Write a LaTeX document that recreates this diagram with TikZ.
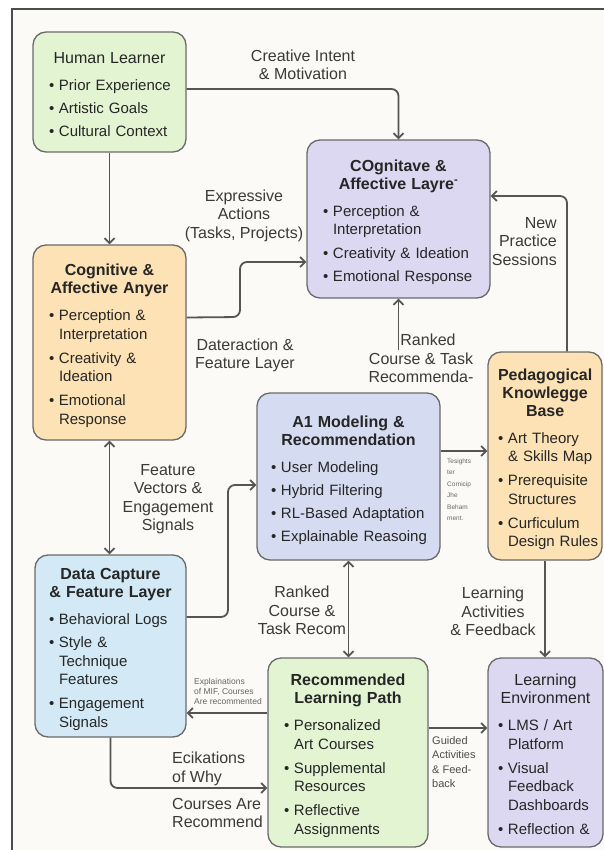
\documentclass[tikz,border=0pt]{standalone}
\usepackage{fontspec}
\setmainfont{Liberation Sans}
\usepackage{xcolor}
\usepackage{tikz}
\usetikzlibrary{arrows.meta}
\setlength{\parindent}{0pt}
\definecolor{paper}{HTML}{FBFAF6}
\definecolor{greenfill}{HTML}{E3F4D3}
\definecolor{orangefill}{HTML}{FCE2B4}
\definecolor{bluefill}{HTML}{D3EAF6}
\definecolor{purplefill}{HTML}{DCD8F1}
\definecolor{modelfill}{HTML}{D5DCF1}
\definecolor{boxline}{HTML}{6A6A6A}
\definecolor{arrowline}{HTML}{555555}
\definecolor{txt}{HTML}{262626}
\definecolor{lbltxt}{HTML}{3A3A3A}
\newcommand{\btitle}[2][\bfseries]{{\centering\fontsize{16}{18}\selectfont#1\begin{tabular}[b]{@{}c@{}}\rule{0pt}{21pt}#2\end{tabular}\par}\vspace{4pt}}
\newcommand{\bitem}[1]{\vspace{4.5pt}{\makebox[10pt][l]{\textbullet}\begin{tabular}[t]{@{}l@{}}#1\end{tabular}\par}}
\tikzstyle{block} = [draw=boxline, line width=1.3pt, rounded corners=13pt, inner xsep=16pt, inner ysep=0pt, text=txt, font=\fontsize{15}{18.5}\selectfont]
\tikzstyle{arrow} = [draw=arrowline, line width=1.8pt, rounded corners=7pt, -{Straight Barb[length=5pt,width=10pt]}]
\tikzstyle{twoway} = [arrow, {Straight Barb[length=5pt,width=10pt]}-{Straight Barb[length=5pt,width=10pt]}]
\tikzstyle{lbl} = [text=lbltxt, font=\fontsize{16}{18.5}\selectfont, align=center, inner sep=0pt]

\begin{document}
\begin{tikzpicture}[x=1pt,y=-1pt]
\useasboundingbox (0,0) rectangle (604,850);
\fill[white] (0,0) rectangle (604,850);
\fill[paper] (12,9) rectangle (604,850);
\draw[line width=1.5pt, draw=black!70] (604,9) -- (12,9) -- (12,850);

\node[block, fill=greenfill, text width=121pt, minimum height=120pt] (learner) at (109.5,92)
  {\btitle[\mdseries]{Human Learner}\bitem{Prior Experience}\bitem{Artistic Goals}\bitem{Cultural Context}};
\node[block, fill=orangefill, text width=121pt, minimum height=195pt] (affect) at (109.5,342.5)
  {\btitle{Cognitive \&\\Affective Anyer}\bitem{Perception \&\\Interpretation}\bitem{Creativity \&\\Ideation}\bitem{Emotional\\Response}};
\node[block, fill=bluefill, inner xsep=14pt, text width=123pt, minimum height=182pt] (capture) at (110.5,646)
  {\btitle{Data Capture\\\& Feature Layer}\bitem{Behavioral Logs}\bitem{Style \&\\Technique\\Features}\bitem{Engagement\\Signals}};
\node[block, fill=purplefill, text width=151pt, minimum height=158pt] (cogtop) at (398.5,219)
  {\btitle{COgnitave \&\\Affective Layre\textsuperscript{-}}\bitem{Perception \&\\Interpretation}\bitem{Creativity \& Ideation}\bitem{Emotional Response}};
\node[block, fill=modelfill, inner xsep=14pt, text width=155pt, minimum height=167pt] (model) at (348.5,476.5)
  {\btitle{A1 Modeling \&\\Recommendation}\bitem{User Modeling}\bitem{Hybrid Filtering}\bitem{RL-Based Adaptation}\bitem{Explainable Reasoing}};
\node[block, fill=orangefill, inner xsep=10pt, text width=94pt, minimum height=208pt] (pedag) at (545,456)
  {\btitle{Pedagogical\\Knowlegge\\Base}\bitem{Art Theory\\\& Skills Map}\bitem{Prerequisite\\Structures}\bitem{Curficulum\\Design Rules}};
\node[block, fill=greenfill, text width=128pt, minimum height=189pt] (path) at (348,752.5)
  {\btitle{Recommended\\Learning Path}\bitem{Personalized\\Art Courses}\bitem{Supplemental\\Resources}\bitem{Reflective\\Assignments}};
\node[block, fill=purplefill, inner xsep=10pt, text width=95pt, minimum height=189pt] (env) at (545.5,752.5)
  {\btitle[\mdseries]{Learning\\Environment}\bitem{LMS / Art\\Platform}\bitem{Visual\\Feedback\\Dashboards}\bitem{Reflection \&}};

\coordinate (rankfoot) at (398.5,350);

\draw[arrow] ([yshift=3pt]learner.east) -| (cogtop.north);
\draw[arrow] (learner.south) -- (affect.north);
\draw[arrow] ([yshift=25pt]affect.east) -- (240,317) |- ([yshift=-43pt]cogtop.west);
\draw[twoway] (affect.south) -- (affect.south |- capture.north);
\draw[arrow] ([yshift=29pt]capture.east) -- (228,617) |- ([yshift=-8.5pt]model.west);
\draw[twoway] (model.south) -- (model.south |- path.north);
\draw[arrow] (rankfoot) -- (cogtop.south);
\draw[arrow] ([yshift=25.5pt]model.east) -- ([yshift=25.5pt]model.east -| pedag.west);
\draw[arrow] ([xshift=22pt]pedag.north) |- ([yshift=23pt]cogtop.east);
\draw[arrow] (pedag.south) -- (pedag.south |- env.north);
\draw[arrow] ([yshift=39.5pt]path.west) -- ([yshift=39.5pt]path.west -| capture.east);
\draw[arrow] (capture.south) |- ([yshift=-35.5pt]path.west);
\draw[arrow] ([yshift=24.5pt]path.east) -- ([yshift=24.5pt]path.east -| env.west);

\node[lbl] (lcreative) at (303,65) {Creative Intent\\\& Motivation};
\node[lbl] (lexpress) at (244,215.5) {Expressive\\Actions\\(Tasks, Projects)};
\node[lbl] (linteract) at (245,355.5) {Dateraction \&\\Feature Layer};
\node[lbl] (lvectors) at (168,499) {Feature\\Vectors \&\\Engagement\\Signals};
\node[lbl] (lrankup) at (421,358.5) {\hspace*{14pt}Ranked\\Course \& Task\\Recommenda-};
\node[lbl, align=right, anchor=east] (lpractice) at (557,241.5) {New\\Practice\\Sessions};
\node[lbl] (lranklow) at (302,610.5) {Ranked\\Course \&\\Task Recom};
\node[lbl] (lactivities) at (493,611.5) {Learning\\Activities\\\& Feedback};
\node[lbl, align=left, anchor=west] (lwhy) at (172,769) {Ecikations\\of Why};
\node[lbl, align=left, anchor=west] (lrecommend) at (172,813) {Courses Are\\Recommend};
\node[lbl, align=left, anchor=west, font=\fontsize{8.5}{10}\selectfont, text=black!60] (lexplain) at (194,691) {Explainations\\of MIF, Courses\\Are recommented};
\node[lbl, align=left, anchor=west, font=\fontsize{6.5}{11.5}\selectfont, text=black!60] (linsight) at (447,489.5) {Tesights\\ter\\Cornicip\\Jhe\\Beham\\ment.};
\node[lbl, align=left, anchor=west, font=\fontsize{11}{14.5}\selectfont, text=black!70] (lguided) at (432,762) {Guided\\Activities\\\& Feed-\\back};
\end{tikzpicture}
\end{document}
